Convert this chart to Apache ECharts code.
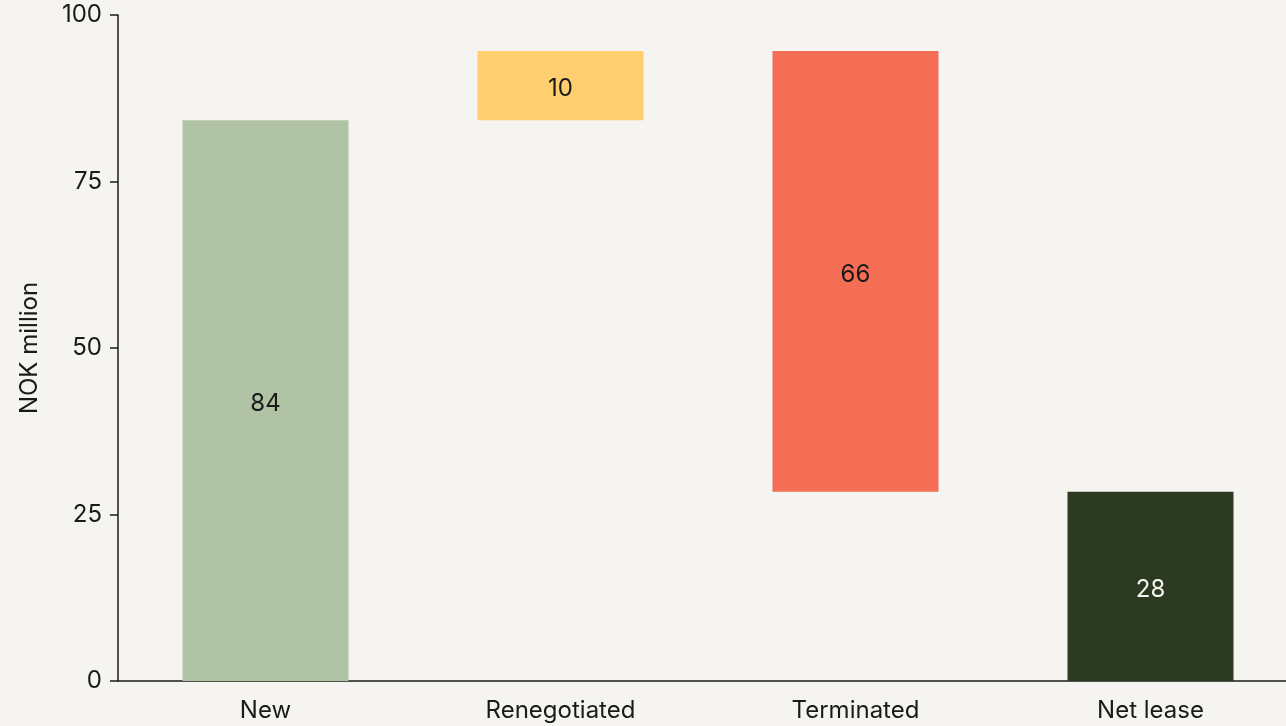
<!DOCTYPE html>
<html>
<head>
<meta charset="utf-8">
<script src="https://cdn.jsdelivr.net/npm/echarts@6/dist/echarts.min.js"></script>
<style>
  html, body { margin: 0; padding: 0; background: #F5F4F0; }
  #chart { width: 1286px; height: 726px; }
</style>
</head>
<body>
<div id="chart"></div>
<script>
// 数据
var categories = ['New', 'Renegotiated', 'Terminated', 'Net lease'];
var baseValues = [0, 84.2, 28.4, 0];          // 透明底座
var barValues = [84.2, 10.4, 66.2, 28.4];     // 可见柱
var barColors = ['#B0C4A5', '#FFCE6E', '#F36E55', '#2B3A21'];
var labelColors = ['#1a1a1a', '#1a1a1a', '#1a1a1a', '#F5F4F0'];
var yTicks = [0, 25, 50, 75, 100];

var FONT = 'Inter, "Liberation Sans", sans-serif';

var myChart = echarts.init(document.getElementById('chart'));

var option = {
    backgroundColor: '#F5F4F0',
    animation: false,
    textStyle: { fontFamily: FONT },
    grid: {
        left: 118,
        right: -12,
        top: 15,
        bottom: 45,
        outerBoundsMode: 'none',
        containLabel: false
    },
    xAxis: {
        type: 'category',
        data: categories,
        axisLine: { lineStyle: { color: '#1a1a1a', width: 1.5 } },
        axisTick: { show: false },
        axisLabel: {
            color: '#1a1a1a',
            fontSize: 24,
            fontFamily: FONT,
            margin: 18
        }
    },
    yAxis: {
        type: 'value',
        min: 0,
        max: 100,
        interval: 25,
        name: 'NOK million',
        nameLocation: 'middle',
        nameGap: 76,
        nameTextStyle: { color: '#1a1a1a', fontSize: 24, fontFamily: FONT },
        splitLine: { show: false },
        axisLine: { show: true, lineStyle: { color: '#1a1a1a', width: 1.5 } },
        axisTick: { show: true, length: 8, lineStyle: { color: '#1a1a1a', width: 1.5 } },
        axisLabel: {
            color: '#1a1a1a',
            fontSize: 24,
            fontFamily: FONT,
            margin: 16,
            formatter: function (v) {
                return yTicks.indexOf(v) >= 0 ? String(v) : '';
            }
        }
    },
    series: [
        {
            name: 'base',
            type: 'bar',
            stack: 'wf',
            silent: true,
            barWidth: 166,
            itemStyle: { color: 'transparent' },
            data: baseValues
        },
        {
            name: 'value',
            type: 'bar',
            stack: 'wf',
            barWidth: 166,
            data: barValues.map(function (v, i) {
                return {
                    value: v,
                    itemStyle: { color: barColors[i] },
                    label: { color: labelColors[i] }
                };
            }),
            label: {
                show: true,
                position: 'inside',
                offset: [0, 3],
                fontSize: 24,
                fontFamily: FONT,
                formatter: function (p) { return Math.round(p.value); }
            }
        }
    ]
};
myChart.setOption(option);
</script>
</body>
</html>
